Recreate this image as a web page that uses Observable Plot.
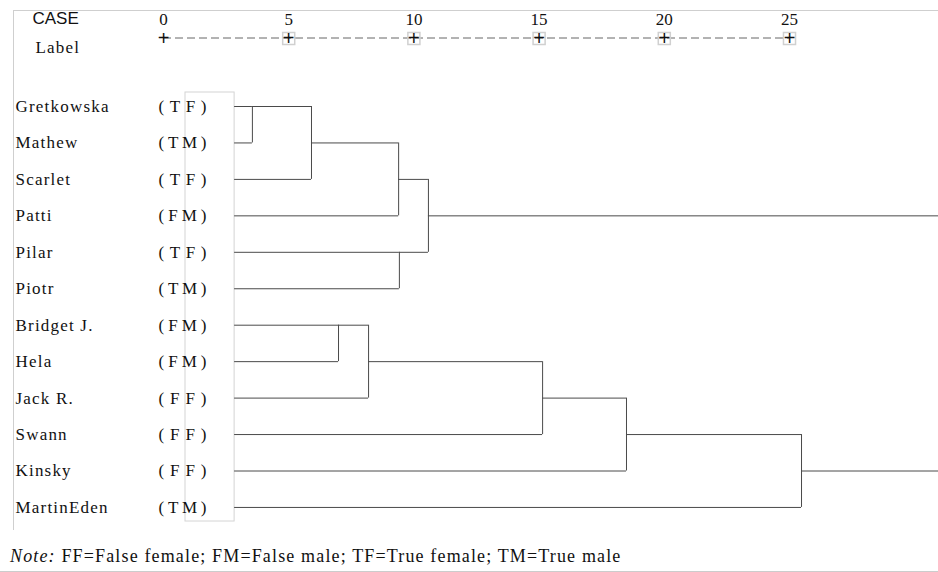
<!DOCTYPE html>
<html><head><meta charset="utf-8">
<script src="https://cdn.jsdelivr.net/npm/d3@7"></script>
<script src="https://cdn.jsdelivr.net/npm/@observablehq/plot@0.6"></script>
<style>
body{margin:0;background:#fff;}
#chart{width:938px;}
.note{font-family:"Liberation Serif",serif;font-size:18px;letter-spacing:1.15px;padding:16px 0 0 10px;line-height:20px;color:#111;height:42px;box-sizing:border-box;border-bottom:1px solid #ccc;width:938px;}
</style></head><body>
<div id="chart"></div>
<div class="note"><i>Note:</i> FF=False female; FM=False male; TF=True female; TM=True male</div>
<script>
// ---- data ----
const names = ["Gretkowska","Mathew","Scarlet","Patti","Pilar","Piotr","Bridget J.","Hela","Jack R.","Swann","Kinsky","MartinEden"];
const codes = ["TF","TM","TF","FM","TF","TM","FM","FM","FF","FF","FF","TM"];
const tickValues = [0,5,10,15,20,25];
const leafStart = 2.84;
// merges: node ids 0..11 are cases, 12.. are clusters
const mergeLeft   = [0, 12, 13, 4, 14, 6, 17, 18, 19, 20];
const mergeRight  = [1, 2, 3, 5, 15, 7, 8, 9, 10, 11];
const mergeHeight = [3.55, 5.91, 9.39, 9.42, 10.58, 6.99, 8.19, 15.14, 18.49, 25.48];
const mergeRow    = [0, 1, 2, 4, 3, 6, 7, 8, 9, 10];

// ---- layout helpers (pixel -> scale units for decorations) ----
const pxPerUnit = 25.04, x0px = 163, rowPx = 36.45, row0px = 106, H = 530, W = 938;
const X = p => (p - x0px) / pxPerUnit;
const Y = p => (p - row0px) / rowPx;
const xMin = X(0), xMax = X(W);

// ---- build tree segments ----
const n = names.length;
const nodeRow = names.map((d, i) => i).concat(mergeRow);
const nodeH = names.map(() => leafStart).concat(mergeHeight);
const parent = {};
mergeLeft.forEach((c, k) => parent[c] = n + k);
mergeRight.forEach((c, k) => parent[c] = n + k);
const horiz = nodeRow.map((r, id) => ({
  y: r, x1: nodeH[id], x2: parent[id] !== undefined ? nodeH[parent[id]] : xMax
}));
const vert = mergeHeight.map((h, k) => ({
  x: h, y1: nodeRow[mergeLeft[k]], y2: nodeRow[mergeRight[k]]
}));

const serif = "Liberation Serif, Times New Roman, serif";
const ink = "#4a4a4a";

const plot = Plot.plot({
  width: W, height: H,
  marginLeft: 0, marginRight: 0, marginTop: 0, marginBottom: 0,
  x: {domain: [xMin, xMax], range: [0, W], axis: null},
  y: {domain: [Y(0), Y(H)], range: [0, H], axis: null},
  style: {background: "white", fontFamily: serif},
  marks: [
    // frame lines
    Plot.ruleY([Y(10)], {x1: X(13), x2: xMax, stroke: "#cfcfcf"}),
    Plot.ruleX([X(13)], {y1: Y(10), y2: Y(H), stroke: "#cfcfcf"}),
    Plot.rect([0], {x1: X(185), x2: leafStart, y1: Y(92), y2: Y(521), fill: "none", stroke: "#d4d4d4"}),
    // header
    Plot.text(["CASE"], {x: X(32), y: Y(18), text: d => d, textAnchor: "start", fontFamily: "Liberation Sans, Arial, sans-serif", fontSize: 17, fill: "#111"}),
    Plot.text(["Label"], {x: X(35), y: Y(47), text: d => d, textAnchor: "start", fontFamily: serif, fontSize: 17, fill: "#111"}),
    Plot.text(tickValues, {x: d => d, y: Y(19), text: d => String(d), fontFamily: serif, fontSize: 17, fill: "#111"}),
    Plot.ruleY([Y(37.5)], {x1: 0, x2: 25, stroke: "#666", strokeDasharray: "8,4"}),
    Plot.dot(tickValues.slice(1), {x: d => d, y: Y(38), symbol: "square", r: 6.8, stroke: "#d0d0d0", fill: "none"}),
    Plot.text(tickValues, {x: d => d, y: Y(38.5), text: () => "+", fontFamily: "Liberation Sans, Arial, sans-serif", fontSize: 20, fill: "#111"}),
    // case labels
    Plot.text(names, {x: X(15), y: (d, i) => i, text: d => d, textAnchor: "start", fontFamily: serif, fontSize: 17, fill: "#111"}),
    Plot.text(codes, {x: X(158), y: (d, i) => i, text: d => `(${d})`, textAnchor: "start", fontFamily: serif, fontSize: 17, fill: "#111"}),
    // dendrogram
    Plot.ruleY(horiz, {y: "y", x1: "x1", x2: "x2", stroke: ink, strokeWidth: 1}),
    Plot.ruleX(vert, {x: "x", y1: "y1", y2: "y2", stroke: ink, strokeWidth: 1})
  ]
});
// styling: letter spacing for labels, justified code labels
d3.select(plot).selectAll("text").each(function() {
  const t = this.textContent;
  if (/^\([A-Z]{2}\)$/.test(t)) {
    this.setAttribute("textLength", 48);
    this.setAttribute("lengthAdjust", "spacing");
  } else if (names.includes(t) || t === "Label") {
    this.style.letterSpacing = "1.2px";
  }
});
document.getElementById("chart").appendChild(plot);
</script>
</body></html>
